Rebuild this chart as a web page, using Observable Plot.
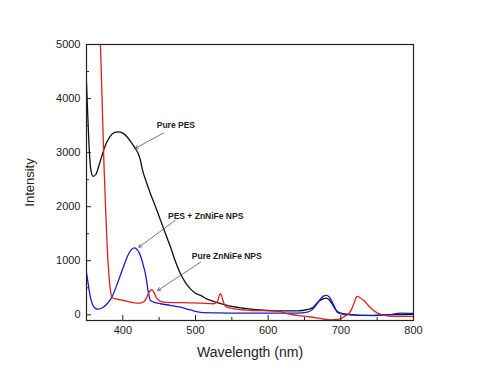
<!DOCTYPE html>
<html>
<head>
<meta charset="utf-8">
<script src="https://cdn.jsdelivr.net/npm/d3@7"></script>
<script src="https://cdn.jsdelivr.net/npm/@observablehq/plot@0.6"></script>
<style>
  html, body { margin: 0; padding: 0; background: #fff; }
</style>
</head>
<body>
<div id="chart"></div>
<script>
// Pure PES (black)
const pesData = [
  [350, 4300], [352, 3600], [354, 3000], [356, 2680], [359, 2560], [363, 2600], [368, 2800],
  [375, 3100], [382, 3290], [388, 3370], [394, 3385], [400, 3360], [406, 3290], [412, 3180],
  [417, 3080], [421, 2990], [424, 2870], [427, 2680], [432, 2470], [438, 2240], [445, 2000],
  [452, 1746], [459, 1490], [466, 1240], [472, 1000], [479, 770], [486, 600], [493, 480],
  [500, 400], [507, 360], [516, 290], [530, 225], [548, 160], [570, 115], [599, 82], [620, 72],
  [640, 72], [655, 100], [663, 150], [668, 230], [673, 280], [679, 310], [684, 280], [688, 200],
  [692, 110], [697, 45], [704, 18], [715, 5], [731, -10], [760, 0], [800, 10]
];
// PES + ZnNiFe NPS (blue)
const compositeData = [
  [350, 780], [352, 600], [355, 350], [358, 200], [362, 120], [366, 105], [372, 130], [378, 200],
  [385, 330], [392, 560], [399, 820], [404, 1000], [408, 1130], [412, 1210], [416, 1240],
  [420, 1200], [424, 1100], [428, 920], [431, 760], [433, 600], [435, 420], [438, 265],
  [445, 225], [452, 205], [465, 175], [479, 141], [493, 90], [507, 45], [530, 35], [560, 32],
  [600, 30], [640, 30], [654, 50], [662, 110], [667, 200], [672, 290], [676, 345], [680, 360],
  [684, 330], [688, 240], [692, 130], [695, 50], [703, 15], [713, 0], [730, -10], [745, -13],
  [765, 0], [782, 30], [800, 25]
];
// Pure ZnNiFe NPS (red)
const nanoData = [
  [366, 6500], [368, 5500], [371, 4200], [374, 2800], [376.5, 1900], [378.5, 1250], [380.5, 800],
  [383, 450], [385, 320], [392, 290], [401, 265], [410, 235], [419, 215], [425, 220], [429, 240],
  [432, 300], [435, 390], [438, 450], [440, 465], [443, 410], [447, 300], [452, 250], [460, 230],
  [480, 225], [507, 215], [525, 205], [530, 240], [533, 370], [535, 385], [537, 300], [541, 160],
  [550, 120], [575, 85], [608, 70], [618, 55], [626, 20], [640, -10], [658, -40], [675, -75],
  [686, -93], [695, -85], [700, -70], [706, -20], [711, 20], [715, 110], [718, 210], [721, 320],
  [723, 340], [727, 310], [732, 260], [740, 140], [750, 35], [760, -10], [773, -30], [800, -30]
];
const seriesNames = ["Pure PES", "PES + ZnNiFe NPS", "Pure ZnNiFe NPS"];
const seriesColors = ["#111111", "#1a1ad6", "#e0201e"];

const xMajorTicks = [400, 500, 600, 700, 800];
const xMinorTicks = [450, 550, 650, 750];
const yMajorTicks = [0, 1000, 2000, 3000, 4000, 5000];
const yMinorTicks = [500, 1500, 2500, 3500, 4500];

// annotation labels and arrows (data coordinates)
const labelText = ["Pure PES", "PES + ZnNiFe NPS", "Pure ZnNiFe NPS"];
const labelX = [473, 514, 543];
const labelY = [3500, 1825, 1085];
const arrowX1 = [456, 472, 507];
const arrowY1 = [3363, 1746, 975];
const arrowX2 = [417, 422, 448];
const arrowY2 = [3080, 1250, 450];

const rows = [];
[pesData, compositeData, nanoData].forEach((arr, i) =>
  arr.forEach(([x, y]) => rows.push({series: seriesNames[i], x, y}))
);
const labels = labelText.map((t, i) => ({t, x: labelX[i], y: labelY[i]}));
const arrows = labelText.map((t, i) => ({x1: arrowX1[i], y1: arrowY1[i], x2: arrowX2[i], y2: arrowY2[i]}));

const W = 480, H = 384, ML = 86, MR = 67, MT = 44, MB = 64;
const plotW = W - ML - MR, plotH = H - MT - MB;

const chart = Plot.plot({
  width: W,
  height: H,
  marginLeft: ML,
  marginRight: MR,
  marginTop: MT,
  marginBottom: MB,
  style: {fontFamily: "'Liberation Sans', Arial, sans-serif", fontSize: "11px", background: "#fff", color: "#222"},
  x: {domain: [350, 800]},
  y: {domain: [-105, 5000]},
  color: {domain: seriesNames, range: seriesColors},
  marks: [
    Plot.line(rows, {x: "x", y: "y", z: "series", stroke: "series", strokeWidth: 1.3, curve: "monotone-x", clip: true}),
    Plot.arrow(arrows, {x1: "x1", y1: "y1", x2: "x2", y2: "y2", stroke: "#555", strokeWidth: 0.8, headLength: 6}),
    Plot.text(labels, {x: "x", y: "y", text: "t", fontWeight: "bold", fontSize: 8.5, fill: "#222"}),
    // inward tick marks
    Plot.ruleX(xMajorTicks, {x: d => d, insetTop: plotH - 5, stroke: "#222"}),
    Plot.ruleX(xMinorTicks, {x: d => d, insetTop: plotH - 3, stroke: "#222"}),
    Plot.ruleY(yMajorTicks, {y: d => d, insetRight: plotW - 5, stroke: "#222"}),
    Plot.ruleY(yMinorTicks, {y: d => d, insetRight: plotW - 3, stroke: "#222"}),
    Plot.frame({stroke: "#222", strokeWidth: 1.2}),
    Plot.axisX({ticks: xMajorTicks, tickSize: 0, tickPadding: 6, fontSize: 11, tickFormat: "d", label: null}),
    Plot.axisX({ticks: [], tickSize: 0, fontSize: 14,
      label: "Wavelength (nm)", labelAnchor: "center", labelArrow: "none", labelOffset: 36}),
    Plot.axisY({ticks: yMajorTicks, tickSize: 0, tickPadding: 6, fontSize: 11, tickFormat: "d", label: null}),
    Plot.axisY({ticks: [], tickSize: 0, fontSize: 13,
      label: "Intensity", labelAnchor: "center", labelArrow: "none", labelOffset: 62})
  ]
});
document.getElementById("chart").appendChild(chart);
</script>
</body>
</html>
